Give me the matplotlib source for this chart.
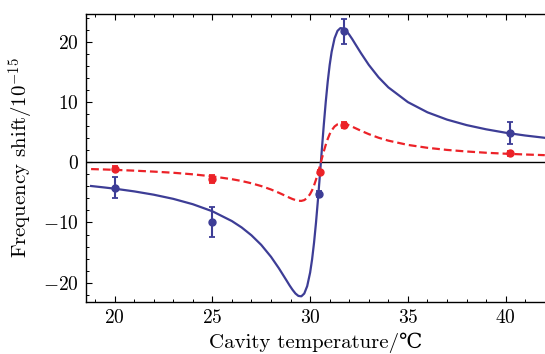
import matplotlib
matplotlib.use("Agg")
import matplotlib.pyplot as plt
from matplotlib.ticker import MultipleLocator

plt.rcParams['mathtext.fontset'] = 'cm'
plt.rcParams['axes.formatter.use_mathtext'] = True
plt.rcParams['font.family'] = ['cmr10', 'DejaVu Serif']
plt.rcParams['axes.unicode_minus'] = True

# fitted curves
curve_x = [18.8, 19.5, 20, 21, 22, 23, 24, 25, 26, 26.5,
           27, 27.5, 28, 28.4, 28.8, 28.95, 29.1, 29.25, 29.4, 29.55,
           29.7, 29.85, 30.0, 30.1, 30.2, 30.3, 30.4, 30.5, 30.6, 30.7,
           30.8, 30.9, 31.0, 31.1, 31.25, 31.4, 31.55, 31.7, 31.85, 32.0,
           32.15, 32.3, 32.6, 33, 33.5, 34, 35, 36, 37, 38,
           39, 40, 41, 42]
blue_curve = [-3.95, -4.20, -4.39, -4.84, -5.39, -6.08, -6.97, -8.14, -9.77, -10.83,
              -12.13, -13.72, -15.70, -17.59, -19.66, -20.45, -21.17, -21.79, -22.19, -22.26,
              -21.80, -20.57, -18.32, -16.14, -13.37, -10.04, -6.24, -2.12, 2.12, 6.24,
              10.04, 13.37, 16.14, 18.32, 20.57, 21.80, 22.26, 22.19, 21.79, 21.17,
              20.45, 19.66, 18.1, 16.15, 14.09, 12.42, 9.97, 8.28, 7.07, 6.16,
              5.46, 4.89, 4.43, 4.05]
red_curve = [-1.14, -1.21, -1.27, -1.40, -1.56, -1.75, -2.01, -2.35, -2.82, -3.12,
             -3.50, -3.96, -4.53, -5.07, -5.67, -5.90, -6.11, -6.28, -6.40, -6.42,
             -6.29, -5.93, -5.28, -4.66, -3.86, -2.90, -1.80, -0.61, 0.61, 1.80,
             2.90, 3.86, 4.66, 5.28, 5.93, 6.29, 6.42, 6.40, 6.28, 6.11,
             5.90, 5.67, 5.22, 4.66, 4.06, 3.58, 2.87, 2.39, 2.04, 1.78,
             1.57, 1.41, 1.28, 1.17]

# measured points
blue_x = [20.0, 24.97, 30.45, 31.75, 40.23]
blue_y = [-4.2, -9.9, -5.3, 21.7, 4.8]
blue_err = [1.8, 2.5, 0.5, 2.0, 1.8]
red_x = [20.0, 24.97, 30.5, 31.75, 40.23]
red_y = [-1.1, -2.8, -1.6, 6.2, 1.45]
red_err = [0.4, 0.6, 0.3, 0.5, 0.35]

xticks = [20, 25, 30, 35, 40]
yticks = [-20, -10, 0, 10, 20]

blue = '#3d3d96'
red = '#ec2228'

fig = plt.figure(figsize=(5.45, 3.54), dpi=100)
ax = fig.add_axes([0.1578, 0.1469, 0.8422, 0.8136])

ax.axhline(0, color='black', lw=1.0, zorder=1)
ax.plot(curve_x, blue_curve, color=blue, lw=1.6, zorder=2)
ax.plot(curve_x, red_curve, color=red, lw=1.6, ls=(0, (3.5, 1.8)), zorder=3)
ax.errorbar(blue_x, blue_y, yerr=blue_err, fmt='o', color=blue, ms=5,
            elinewidth=1.5, capsize=2.2, capthick=1.3, zorder=4)
ax.errorbar(red_x, red_y, yerr=red_err, fmt='o', color=red, ms=5,
            elinewidth=1.5, capsize=2.2, capthick=1.3, zorder=5)

ax.set_xlim(18.54, 42.01)
ax.set_ylim(-23.2, 24.6)
ax.set_xticks(xticks)
ax.set_yticks(yticks)
ax.xaxis.set_minor_locator(MultipleLocator(1))
ax.yaxis.set_minor_locator(MultipleLocator(2))
ax.tick_params(which='both', direction='in', top=True, right=False, labelsize=14)
ax.tick_params(which='major', length=4, width=0.8)
ax.tick_params(which='minor', length=2.5, width=0.7)
ax.tick_params(axis='x', pad=5)
ax.tick_params(axis='y', pad=5)
ax.spines['right'].set_visible(False)
for s in ['left', 'top', 'bottom']:
    ax.spines[s].set_linewidth(1.0)

ax.set_xlabel('Cavity temperature/\u2103', fontsize=15, labelpad=4)
ax.set_ylabel('Frequency shift/$10^{-15}$', fontsize=15, labelpad=5)

fig.savefig('out.png', dpi=100)
